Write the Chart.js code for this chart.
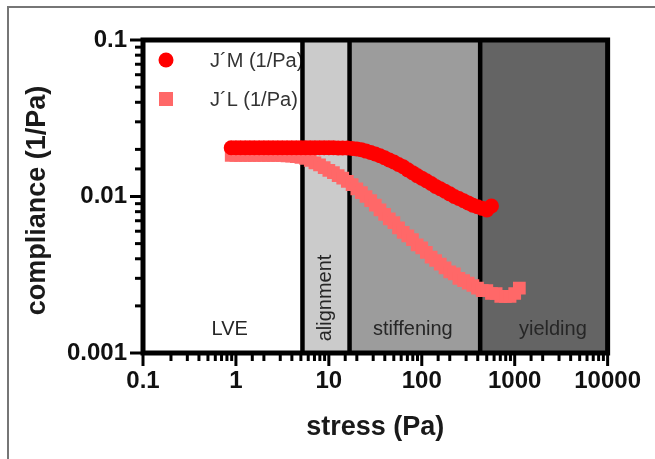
<!DOCTYPE html>
<html><head><meta charset="utf-8">
<script src="https://cdn.jsdelivr.net/npm/chart.js@4.4.1/dist/chart.umd.min.js"></script>
<style>
html,body{margin:0;padding:0;background:#fff;}
#wrap{position:relative;width:655px;height:459px;overflow:hidden;}
#frame{position:absolute;left:7px;top:6px;width:660px;height:470px;border-top:2px solid #767676;border-left:2px solid #767676;pointer-events:none;}
canvas{position:absolute;left:0;top:0;}
</style></head><body>
<div id="wrap"><canvas id="c" width="655" height="459"></canvas><div id="frame"></div></div>
<script>
// stress values (Pa) of the measured points
const stress = [0.89,1.0,1.12,1.26,1.41,1.58,1.78,2.0,2.24,2.51,2.82,3.16,3.55,3.98,4.47,5.01,5.62,6.31,7.08,7.94,8.91,10,11.2,12.6,14.1,15.8,17.8,20,22.4,25.1,28.2,31.6,35.5,39.8,44.7,50.1,56.2,63.1,70.8,79.4,89.1,100,112,126,141,158,178,200,224,251,282,316,355,398,447,501,562,631,708,794,891,1000,1122];
// J'M compliance (1/Pa)
const jM = [0.0205,0.0205,0.0205,0.0205,0.0205,0.0205,0.0205,0.0205,0.0205,0.0205,0.0205,0.0205,0.0205,0.0205,0.0205,0.0205,0.0205,0.0205,0.0205,0.0205,0.0205,0.0205,0.0205,
  0.0204,0.0204,0.0204,0.0203,0.0201,0.0199,0.0195,0.0191,0.0187,0.0182,0.0177,0.0171,0.0166,0.0160,0.0155,0.0148,0.0142,0.0136,0.0131,0.0126,0.0121,0.0116,0.0112,0.0108,0.0104,0.0100,0.0097,0.0094,0.0091,0.0088,0.0086,0.0084,0.0082,0.0087];
// J'L compliance (1/Pa)
const jL = [0.0183,0.0183,0.0183,0.0183,0.0183,0.0183,0.0183,0.0183,0.0183,0.0183,0.0183,0.0183,
  0.0182,0.0181,0.0180,0.0178,0.0175,0.0170,0.0164,0.0159,0.0153,
  0.0147,0.0142,0.0136,0.0131,0.0125,0.0119,0.0112,0.0106,0.0100,0.0094,0.0088,0.0082,0.0077,0.0072,0.0068,0.0063,0.0059,0.0056,0.0053,0.0049,0.0047,0.0044,0.0041,0.0039,0.0037,0.0035,0.0033,0.0032,0.0030,0.0029,0.0028,0.0027,0.0026,0.0025,0.0025,0.0024,0.0024,0.0023,0.0023,0.0023,0.0024,0.0026];
const seriesNames = ['J\u00B4M (1/Pa)', 'J\u00B4L (1/Pa)'];
const regionBounds = [0.1, 5.2, 16.7, 425, 10000];
const regionNames = ['LVE', 'alignment', 'stiffening', 'yielding'];
const xTickLabels = ['0.1','1','10','100','1000','10000'];
const yTickLabels = ['0.001','0.01','0.1'];
const xTitle = 'stress (Pa)';
const yTitle = 'compliance (1/Pa)';

const FONT = '"Liberation Sans", Arial, Helvetica, sans-serif';
const regionColors = ['#ffffff', '#cbcbcb', '#9c9c9c', '#646464'];
const regionNudge = [7, 0, -2, 9];
const colM = '#ff0000', colL = '#ff6868';

function isPow10(v){ const l = Math.log10(v); return Math.abs(l - Math.round(l)) < 1e-6; }
function labelFor(list, v){ const l = Math.log10(v); return list.find(s => Math.abs(Math.log10(+s) - l) < 1e-6) || ''; }

const decor = {
  id: 'decor',
  beforeDatasetsDraw(chart){
    const {ctx, chartArea: a, scales: {x}} = chart;
    ctx.save();
    for (let i = 0; i < regionNames.length; i++){
      const x0 = x.getPixelForValue(regionBounds[i]), x1 = x.getPixelForValue(regionBounds[i+1]);
      ctx.fillStyle = regionColors[i];
      ctx.fillRect(x0, a.top, x1 - x0, a.bottom - a.top);
    }
    ctx.fillStyle = '#262626';
    ctx.font = '20px ' + FONT;
    for (let i = 0; i < regionNames.length; i++){
      const x0 = x.getPixelForValue(regionBounds[i]), x1 = x.getPixelForValue(regionBounds[i+1]);
      const cx = (x0 + x1) / 2 + regionNudge[i];
      if (regionNames[i] === 'alignment'){
        ctx.save();
        ctx.translate(cx - 1, a.bottom - 55);
        ctx.rotate(-Math.PI / 2);
        ctx.textAlign = 'center'; ctx.textBaseline = 'middle';
        ctx.fillText(regionNames[i], 0, 0);
        ctx.restore();
      } else {
        ctx.textAlign = 'center'; ctx.textBaseline = 'middle';
        ctx.fillText(regionNames[i], cx, a.bottom - 24);
      }
    }
    // legend
    ctx.save();
    ctx.beginPath(); ctx.rect(a.left, a.top, x.getPixelForValue(regionBounds[1]) - a.left, a.bottom - a.top); ctx.clip();
    ctx.fillStyle = colM;
    ctx.beginPath(); ctx.arc(166, 60, 7.5, 0, Math.PI * 2); ctx.fill();
    ctx.fillStyle = colL;
    ctx.fillRect(159, 92, 14, 14);
    ctx.fillStyle = '#333';
    ctx.font = '20px ' + FONT;
    ctx.textAlign = 'left'; ctx.textBaseline = 'middle';
    ctx.fillText(seriesNames[0], 210, 61);
    ctx.fillText(seriesNames[1], 210, 100);
    ctx.restore();
    // dividers and frame
    ctx.strokeStyle = '#000'; ctx.lineWidth = 4.5;
    for (let i = 1; i < regionBounds.length - 1; i++){
      const px = x.getPixelForValue(regionBounds[i]);
      ctx.beginPath(); ctx.moveTo(px, a.top); ctx.lineTo(px, a.bottom); ctx.stroke();
    }
    ctx.lineWidth = 5;
    ctx.strokeRect(a.left, a.top, a.right - a.left, a.bottom - a.top);
    ctx.restore();
  },
  afterDraw(chart){
    const {ctx, chartArea: a, scales: {x, y}} = chart;
    ctx.save();
    ctx.strokeStyle = '#000'; ctx.lineWidth = 3;
    y.ticks.forEach(t => {
      const py = y.getPixelForValue(t.value), len = isPow10(t.value) ? 13 : 8;
      ctx.beginPath(); ctx.moveTo(a.left - len, py); ctx.lineTo(a.left, py); ctx.stroke();
    });
    x.ticks.forEach(t => {
      const px = x.getPixelForValue(t.value), len = isPow10(t.value) ? 13 : 8;
      ctx.beginPath(); ctx.moveTo(px, a.bottom); ctx.lineTo(px, a.bottom + len); ctx.stroke();
    });
    ctx.fillStyle = '#1a1a1a';
    ctx.font = 'bold 27px ' + FONT;
    ctx.textAlign = 'center'; ctx.textBaseline = 'middle';
    ctx.fillText(xTitle, (a.left + a.right) / 2, 428);
    ctx.save();
    ctx.translate(38, (a.top + a.bottom) / 2 + 4);
    ctx.rotate(-Math.PI / 2);
    ctx.fillText(yTitle, 0, 0);
    ctx.restore();
    ctx.restore();
  }
};

const tickFont = {family: FONT, size: 24, weight: 'bold'};
new Chart(document.getElementById('c'), {
  type: 'scatter',
  data: {
    datasets: [
      {label: seriesNames[0], data: jM.map((v, i) => ({x: stress[i], y: v})), pointStyle: 'circle', pointRadius: 7.5, backgroundColor: colM, borderColor: colM, borderWidth: 0, showLine: false},
      {label: seriesNames[1], data: jL.map((v, i) => ({x: stress[i], y: v})), pointStyle: 'rect', pointRadius: 9, backgroundColor: colL, borderColor: colL, borderWidth: 0, showLine: false}
    ]
  },
  options: {
    responsive: false, animation: false, events: [],
    layout: {padding: {left: 0, top: 40, right: 43, bottom: 0}},
    plugins: {legend: {display: false}, tooltip: {enabled: false}},
    scales: {
      x: {type: 'logarithmic', min: 0.1, max: 10000, position: 'bottom',
          grid: {display: false, drawTicks: false}, border: {display: false},
          ticks: {autoSkip: false, maxRotation: 0, minRotation: 0, padding: 14, color: '#111', font: tickFont,
                  callback: v => labelFor(xTickLabels, v)},
          afterFit(s){ s.height = 106; }},
      y: {type: 'logarithmic', min: 0.001, max: 0.1, position: 'left',
          grid: {display: false, drawTicks: false}, border: {display: false},
          ticks: {autoSkip: false, padding: 16, color: '#111', font: tickFont,
                  callback: v => labelFor(yTickLabels, v)},
          afterFit(s){ s.width = 143; }}
    }
  },
  plugins: [decor]
});
</script>
</body></html>
